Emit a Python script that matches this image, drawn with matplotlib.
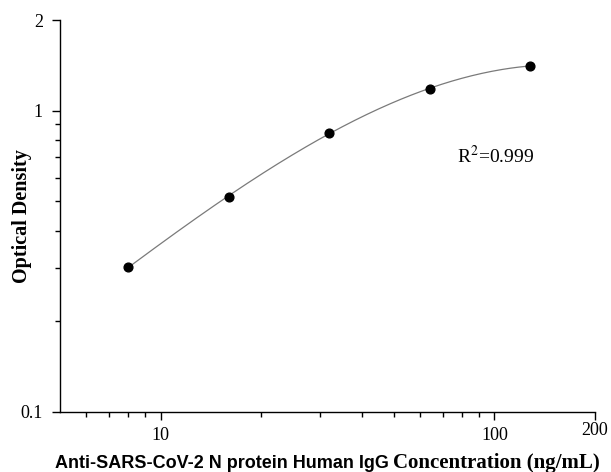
import numpy as np
import matplotlib
matplotlib.use('Agg')
import matplotlib.pyplot as plt
import matplotlib.transforms as mtransforms
from matplotlib.ticker import LogLocator, FixedLocator, NullFormatter

# %% Data:
conc = [8, 16, 32, 64, 128]  # [ng/mL]
od = [0.302, 0.519, 0.846, 1.18, 1.41]
x_ticks = [10, 100, 200]
x_tick_labels = ['10', '100', '200']
y_ticks = [0.1, 1, 2]
y_tick_labels = ['0.1', '1', '2']
r2_text = 'R$^2$=0.999'

# %% Smooth fitted curve in log-log space:
lx = np.log10(conc)
ly = np.log10(od)
coef = np.polyfit(lx, ly, 3)
lx_fit = np.linspace(lx[0], lx[-1], 200)
x_fit = 10**lx_fit
y_fit = 10**np.polyval(coef, lx_fit)

# %% Figure:
plt.rcParams['font.family'] = 'Liberation Serif'
plt.rcParams['mathtext.fontset'] = 'stix'

fig = plt.figure(figsize=(6.11, 4.72), dpi=100)
ax = fig.add_axes([60/611, 1 - 412/472, 535/611, 392/472])

ax.plot(x_fit, y_fit, color='#7a7a7a', lw=0.9)
ax.plot(conc, od, 'o', color='black', ms=6.3)

ax.set_xscale('log')
ax.set_yscale('log')
ax.set_xlim(5, 200)
ax.set_ylim(0.1, 2)

ax.xaxis.set_major_locator(FixedLocator(x_ticks))
ax.set_xticklabels(x_tick_labels)
ax.xaxis.set_minor_locator(FixedLocator([6, 7, 8, 9, 20, 30, 40, 50, 60, 70, 80, 90]))
ax.xaxis.set_minor_formatter(NullFormatter())
ax.yaxis.set_major_locator(FixedLocator(y_ticks))
ax.set_yticklabels(y_tick_labels)
ax.yaxis.set_minor_locator(LogLocator(base=10, subs=np.arange(2, 10), numticks=10))
ax.yaxis.set_minor_formatter(NullFormatter())

for s in ['top', 'right']:
    ax.spines[s].set_visible(False)
for s in ['left', 'bottom']:
    ax.spines[s].set_linewidth(1.0)
ax.tick_params(which='major', direction='out', length=5.8, width=1, labelsize=13)
ax.tick_params(axis='x', which='major', pad=5)
ax.tick_params(axis='y', which='major', pad=6.5)
ax.tick_params(which='minor', direction='out', length=3.4, width=1)

# "200" sits a little higher than the other x labels
raise_200 = mtransforms.ScaledTranslation(0, 5/100, fig.dpi_scale_trans)
for lab in ax.get_xticklabels():
    if lab.get_text() == '200':
        lab.set_transform(lab.get_transform() + raise_200)

ax.set_ylabel('Optical Density', fontsize=14.5, fontweight='bold')
ax.yaxis.set_label_coords(-28/535, 0.5)
ax.text(0.815, 0.635, r2_text, transform=ax.transAxes, fontsize=14, ha='center')

# Two-font x label
renderer = fig.canvas.get_renderer()
t1 = fig.text(55/611, 1 - 468/472, 'Anti-SARS-CoV-2 N protein Human IgG',
              family='Liberation Sans', fontweight='bold', fontsize=13)
bb = t1.get_window_extent(renderer)
fig.text(bb.x1/611 + 4/611, 1 - 468/472, 'Concentration (ng/mL)',
         family='Liberation Serif', fontweight='bold', fontsize=15)

fig.savefig('out.png', dpi=100)
